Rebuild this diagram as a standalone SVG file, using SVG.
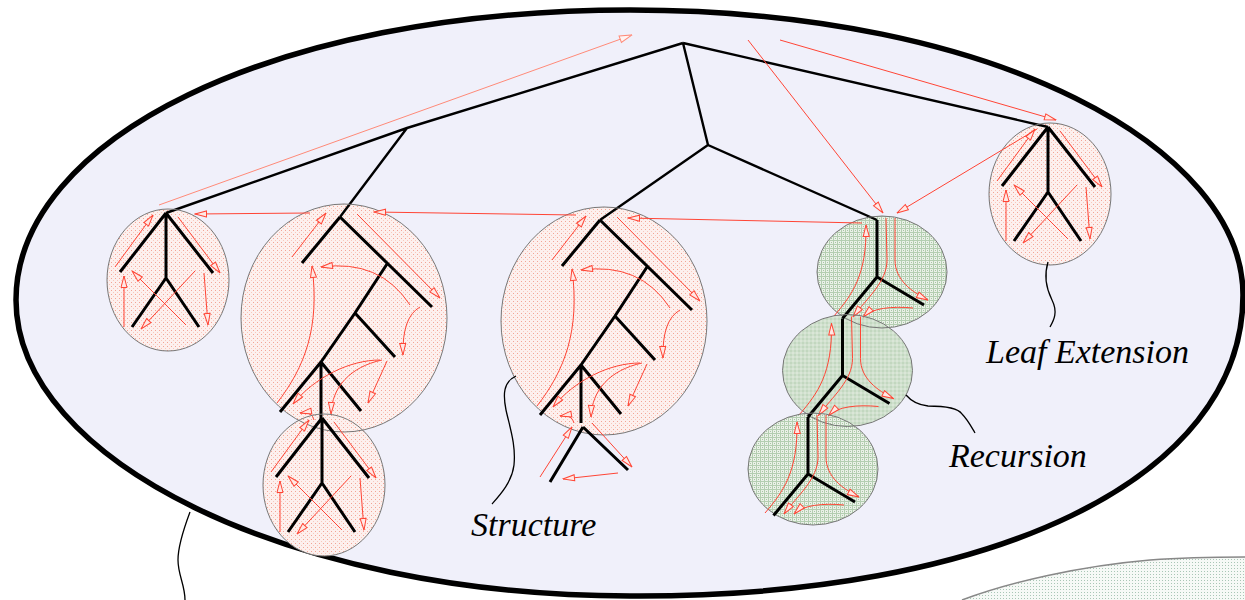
<svg xmlns="http://www.w3.org/2000/svg" xmlns:xlink="http://www.w3.org/1999/xlink" width="1245" height="600" viewBox="0 0 1245 600">
<style>
.tree{fill:none;stroke:#000;stroke-width:3;stroke-linecap:butt;stroke-linejoin:miter}
.spine{fill:none;stroke:#000;stroke-width:2.4}
.ar{fill:none;stroke:#ff4535;stroke-width:1;marker-end:url(#ah)}
.arl{fill:none;stroke:#ff8a78;stroke-width:1;marker-end:url(#ahl)}
.ol{fill:none;stroke:#777;stroke-width:1}
.pink{fill:url(#pk);stroke:none}
.grn{fill:url(#gr);stroke:none}
.call{fill:none;stroke:#000;stroke-width:1.3}
.lbl{font-family:"Liberation Serif","Times New Roman",serif;font-style:italic;font-size:34px;fill:#000}
</style>
<defs>
<marker id="ah" viewBox="0 0 13 8" refX="12.5" refY="4" markerWidth="13" markerHeight="8" markerUnits="userSpaceOnUse" orient="auto">
<path d="M1,1 L12.5,4 L1,7 Z" fill="#ffe8e4" stroke="#ff4535" stroke-width="1"/>
</marker>
<marker id="ahl" viewBox="0 0 14 9" refX="13.5" refY="4.5" markerWidth="14" markerHeight="9" markerUnits="userSpaceOnUse" orient="auto">
<path d="M1,1 L13.5,4.5 L1,8 Z" fill="#fff4f2" stroke="#ff8a78" stroke-width="1"/>
</marker>
<pattern id="pk" width="4" height="4" patternUnits="userSpaceOnUse">
<rect width="4" height="4" fill="#fdf0ee"/>
<rect x="1" y="1" width="1" height="1" fill="#f2a496"/>
<rect x="3" y="3" width="1" height="1" fill="#f8c8bc"/>
</pattern>
<pattern id="gr" width="4" height="4" patternUnits="userSpaceOnUse">
<rect width="4" height="4" fill="#b4ceb1"/>
<rect x="1" y="1" width="3" height="3" fill="#eaf1e8"/>
<rect x="2" y="2" width="1" height="1" fill="#a8c4a4"/>
</pattern>
<pattern id="dt" width="3" height="3" patternUnits="userSpaceOnUse">
<rect width="3" height="3" fill="#f6f9f6"/>
<rect x="1" y="1" width="1" height="1" fill="#a9c6b6"/>
</pattern>
<ellipse id="leafShape" cx="2" cy="67" rx="61" ry="71"/>
<ellipse id="bigShape" cx="4" cy="101" rx="103" ry="114"/>
<ellipse id="grnShape" cx="5" cy="52" rx="65" ry="56"/>
<g id="leaf">
<path class="tree" d="M0,0 L-46,59 M0,0 L47,60 M0,0 L0,65 M0,65 L-34,114 M0,65 L33,114"/>
<path class="ar" d="M-51,54 L-13,2"/>
<path class="ar" d="M12,4 L54,60"/>
<path class="ar" d="M-42,114 L-42,63"/>
<path class="ar" d="M29,58 L-25,116"/>
<path class="ar" d="M20,112 L-34,58"/>
<path class="ar" d="M38,60 L42,112"/>
</g>
<g id="big">
<path class="tree" d="M0,0 L-38,46 M0,0 L92,90 M47,47 L15,96 L-19,145 M15,96 L55,140 M-19,145 L-60,195 M-19,145 L21,194 M-19,145 L-19,203"/>
<path class="ar" d="M-48,40 L-14,-4"/>
<path class="ar" d="M17,-3 L100,81"/>
<path class="ar" d="M70,88 Q40,42 -19,50"/>
<path class="ar" d="M80,90 Q62,100 63,138"/>
<path class="ar" d="M-63,186 C-35,150 -20,110 -28,49"/>
<path class="ar" d="M40,143 C10,143 -25,160 -47,187"/>
<path class="ar" d="M47,144 L28,186"/>
<path class="ar" d="M42,143 C10,150 -8,170 -9,197"/>
<path class="ar" d="M-26,203 Q-28,194 -40,196"/>
</g>
<g id="unit">
<path class="tree" d="M0,0 L0,57 L47,85 M0,57 L-34.5,98.5"/>
<path class="ar" d="M-43,96 C-25,75 -10,55 -11,5"/>
<path class="ar" d="M9,-2 L10,40 C10,62 -10,78 -24,97"/>
<path class="ar" d="M18,-2 L18,40 C18,60 35,72 51,80"/>
<path class="ar" d="M36,88 C15,86 -5,88 -14,97"/>
</g>
</defs>

<rect width="1245" height="600" fill="#fff"/>

<g id="universe">
<path d="M16,300 C16,140 270,10 630,10 C1000,10 1243,150 1243,295 C1243,480 990,598 630,596 C290,596 16,460 16,300 Z" fill="#f0f0fa" stroke="#000" stroke-width="5.5"/>
</g>

<g id="neighbour">
<path d="M962,600 C1010,582 1080,566 1150,560 C1190,557 1220,557 1245,557 L1245,600 Z" fill="url(#dt)"/>
<path d="M962,600 C1010,582 1080,566 1150,560 C1190,557 1220,557 1245,557" fill="none" stroke="#888" stroke-width="1.5"/>
</g>

<g id="node-fills">
<use href="#leafShape" class="pink" transform="translate(166,213)"/>
<use href="#bigShape" class="pink" transform="translate(340,217)"/>
<use href="#leafShape" class="pink" transform="translate(322,418)"/>
<use href="#bigShape" class="pink" transform="translate(600,220)"/>
<use href="#leafShape" class="pink" transform="translate(1048,127)"/>
<use href="#grnShape" class="grn" transform="translate(877,220)"/>
<use href="#grnShape" class="grn" transform="translate(842.5,318.5)"/>
<use href="#grnShape" class="grn" transform="translate(808,417)"/>
</g>

<g id="spine">
<path class="spine" d="M683,43 L407,128 L166,213 M407,128 L340,217 M683,43 L708,145 L600,220 M708,145 L877,220 M683,43 L1048,127"/>
</g>

<g id="leaf-left" transform="translate(166,213)">
<use href="#leafShape" class="ol"/>
<use href="#leaf"/>
</g>

<g id="structure-left" transform="translate(340,217)">
<use href="#bigShape" class="ol"/>
<use href="#big"/>
</g>

<g id="leaf-bottom" transform="translate(322,418)">
<use href="#leafShape" class="ol"/>
<use href="#leaf"/>
</g>

<g id="structure-middle" transform="translate(600,220)">
<use href="#bigShape" class="ol"/>
<use href="#big"/>
</g>
<g id="structure-middle-tail">
<path class="tree" d="M583,427 L550,482 M583,427 L628,470"/>
<path class="ar" d="M540,477 L572,427"/>
<path class="ar" d="M592,423 L632,467"/>
<path class="ar" d="M618,473 L563,479"/>
</g>

<g id="recursion-1" transform="translate(877,220)">
<use href="#grnShape" class="ol"/>
<use href="#unit"/>
</g>
<g id="recursion-2" transform="translate(842.5,318.5)">
<use href="#grnShape" class="ol"/>
<use href="#unit"/>
</g>
<g id="recursion-3" transform="translate(808,417)">
<use href="#grnShape" class="ol"/>
<use href="#unit"/>
</g>

<g id="leaf-right" transform="translate(1048,127)">
<use href="#leafShape" class="ol"/>
<use href="#leaf"/>
</g>

<g id="connectors">
<path class="arl" d="M159,205 L632,35"/>
<path class="ar" d="M748,40 L883,213"/>
<path class="ar" d="M780,40 L1056,120"/>
<path class="ar" d="M1037,129 L897,213"/>
<path class="ar" d="M862,223 L628,218"/>
<path class="ar" d="M576,215 L374,212"/>
<path class="ar" d="M310,213 L195,214"/>
</g>

<g id="callouts">
<path class="call" d="M516,376 C503,382 503,395 506,410 C510,428 516,445 514,465 C512,482 500,495 492,504"/>
<path class="call" d="M190,512 C184,528 178,545 178,560 C178,575 185,585 185,600"/>
<path class="call" d="M906,395 C912,402 918,405 928,406 C945,406 958,408 962,414 C968,420 972,428 975,433"/>
<path class="call" d="M1048,262 C1044,275 1046,288 1052,300 C1058,312 1054,320 1050,327"/>
</g>

<g id="labels">
<text class="lbl" font-family="Liberation Serif, serif" font-style="italic" x="986" y="363">Leaf Extension</text>
<text class="lbl" font-family="Liberation Serif, serif" font-style="italic" x="949" y="467">Recursion</text>
<text class="lbl" font-family="Liberation Serif, serif" font-style="italic" x="471" y="536">Structure</text>
</g>
</svg>
